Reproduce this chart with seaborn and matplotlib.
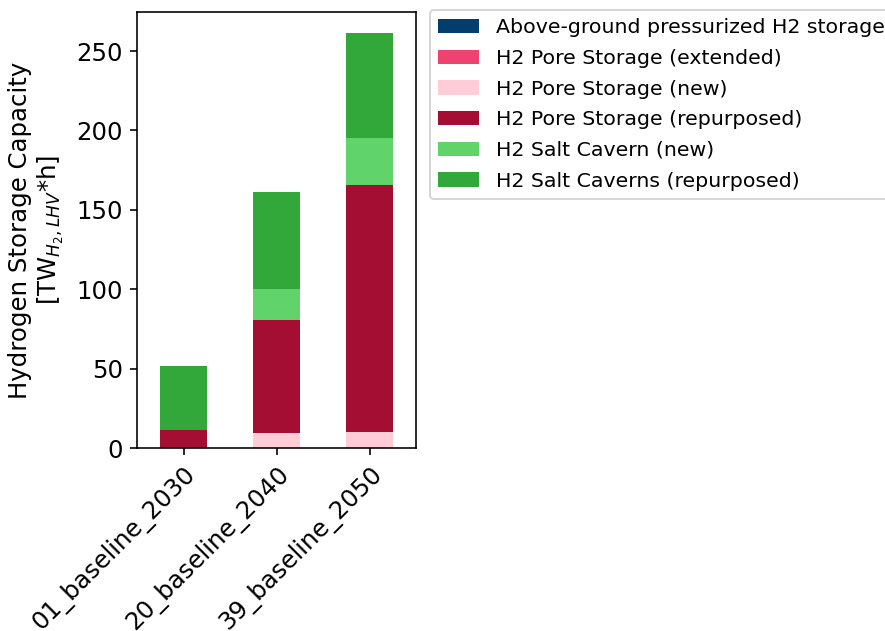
import matplotlib
matplotlib.use("Agg")
import matplotlib.pyplot as plt
import seaborn as sns
import numpy as np

scenarios = ["01_baseline_2030", "20_baseline_2040", "39_baseline_2050"]
technologies = [
    "Above-ground pressurized H2 storage",
    "H2 Pore Storage (extended)",
    "H2 Pore Storage (new)",
    "H2 Pore Storage (repurposed)",
    "H2 Salt Cavern (new)",
    "H2 Salt Caverns (repurposed)",
]
above_ground = [0.0, 0.0, 0.0]
pore_extended = [0.0, 0.0, 0.0]
pore_new = [0.0, 9.4, 9.8]
pore_repurposed = [11.5, 71.0, 156.0]
salt_new = [0.0, 19.5, 29.7]
salt_repurposed = [40.0, 61.5, 66.0]
colors = ["#023D6B", "#F0426E", "#FFCCD8", "#A50E33", "#60D46A", "#32A83A"]

series = [above_ground, pore_extended, pore_new, pore_repurposed, salt_new, salt_repurposed]

DPI = 146
fig = plt.figure(figsize=(885 / DPI, 631 / DPI), dpi=DPI)
ax = fig.add_axes([137 / 885, 1 - 448 / 631, 279 / 885, 436 / 631])

bottom = np.zeros(len(scenarios))
for name, vals, col in zip(technologies, series, colors):
    sns.barplot(x=scenarios, y=vals, bottom=bottom.copy(), color=col, width=0.5,
                saturation=1, errorbar=None, label=name, ax=ax,
                edgecolor="none", linewidth=0)
    bottom += np.array(vals)

ax.set_xlim(-0.5, 2.5)
ax.set_ylim(0, bottom.max() * 1.05)
ax.set_ylabel("Hydrogen Storage Capacity\n[TW$_{H_2,LHV}$*h]", fontsize=12, labelpad=5)
ax.set_xlabel("")
ax.tick_params(axis="both", labelsize=12)
plt.setp(ax.get_xticklabels(), rotation=45, ha="right", rotation_mode="anchor")

ax.legend(loc="upper left", bbox_to_anchor=(430 / 885, 1 - 10 / 631),
          bbox_transform=fig.transFigure, borderaxespad=0, fontsize=10.1,
          labelspacing=0.57)

fig.savefig("out.png", dpi=DPI)
